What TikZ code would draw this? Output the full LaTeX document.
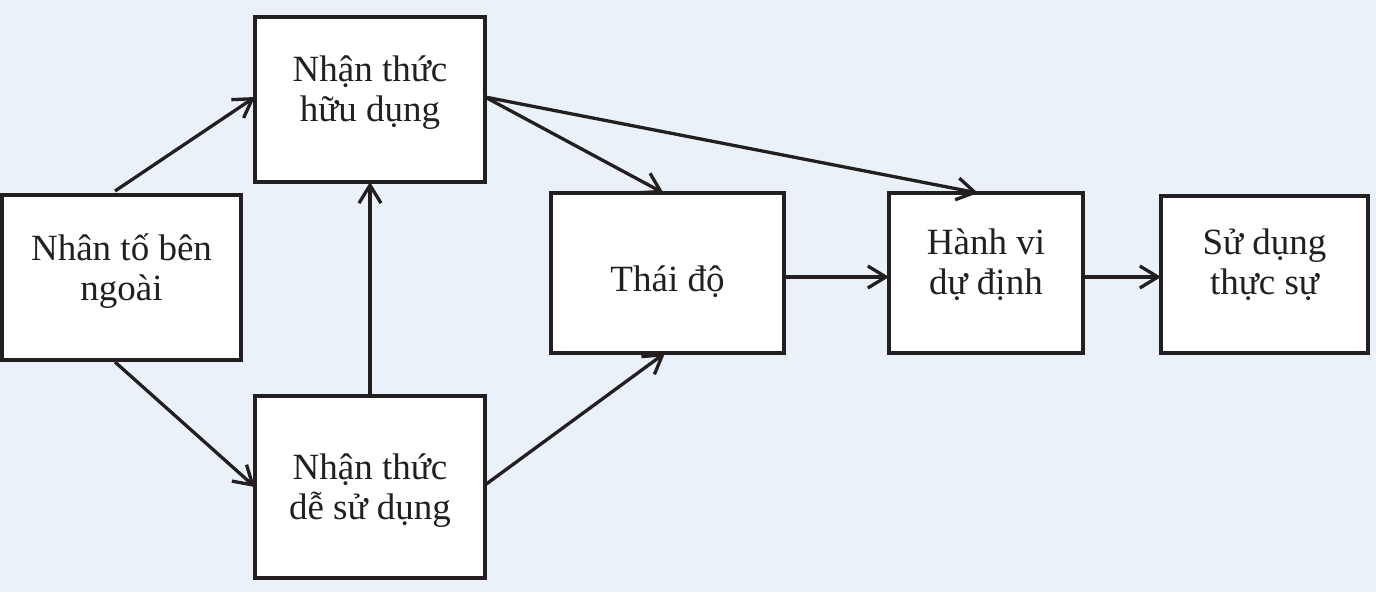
\documentclass[tikz,border=0pt]{standalone}
\usepackage{fontspec}
\setmainfont{Liberation Serif}
\usetikzlibrary{arrows.meta}
\definecolor{bgblue}{RGB}{235,241,249}
\definecolor{ink}{RGB}{35,31,32}
\newcommand\boxtext[2]{\raisebox{#1}[\height][\depth]{\begin{tabular}{@{}c@{}}#2\end{tabular}}}
\tikzset{
  box/.style={draw=ink, line width=3.3pt, fill=white, inner sep=0pt, outer sep=0pt,
    text=ink, font=\fontsize{37}{40}\selectfont},
  conn/.style={draw=ink, line width=3.3pt, -{Straight Barb[length=18pt,width=22pt,line width=3.3pt]}}
}
\begin{document}
\begin{tikzpicture}[x=1pt,y=-1pt]
\fill[bgblue] (0,0) rectangle (1376,592);
\useasboundingbox (0,0) rectangle (1376,592);
\node[box, minimum width=239pt, minimum height=165pt] (A) at (121.5,277.5) {\boxtext{5pt}{Nhân tố bên\\ngoài}};
\node[box, minimum width=230pt, minimum height=165pt] (B) at (370,99.5) {\boxtext{6pt}{Nhận thức\\hữu dụng}};
\node[box, minimum width=230pt, minimum height=182pt] (C) at (370,487) {\boxtext{-4pt}{Nhận thức\\dễ sử dụng}};
\node[box, minimum width=233pt, minimum height=160pt] (T) at (667.5,273) {\boxtext{-10pt}{Thái độ}};
\node[box, minimum width=194pt, minimum height=160pt] (H) at (986,273) {\boxtext{7pt}{Hành vi\\dự định}};
\node[box, minimum width=207pt, minimum height=157pt] (S) at (1264.5,274.5) {\boxtext{8pt}{Sử dụng\\thực sự}};
\draw[conn] ([xshift=-6.5pt,yshift=4pt]A.north) -- ([yshift=2.5pt]B.west);
\draw[conn] ([xshift=-6.5pt,yshift=-2pt]A.south) -- (C.west);
\draw[conn] (C.north) -- (B.south);
\draw[conn] ([yshift=2.5pt]B.east) -- ([xshift=-4pt]T.north);
\draw[conn] ([yshift=2.5pt]B.east) -- ([xshift=-8pt]H.north);
\draw[conn] ([yshift=2pt]C.east) -- ([xshift=-2.5pt]T.south);
\draw[conn] ([yshift=-4pt]T.east) -- ([yshift=-4pt]H.west);
\draw[conn] ([yshift=-4pt]H.east) -- ([yshift=-2.5pt]S.west);
\end{tikzpicture}
\end{document}
